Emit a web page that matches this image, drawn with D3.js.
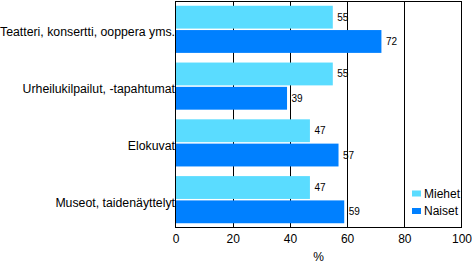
<!DOCTYPE html>
<html><head><meta charset="utf-8">
<script src="https://cdn.jsdelivr.net/npm/d3@7"></script>
<style>body{margin:0;background:#fff}svg{display:block}text{font-family:Arial,"Liberation Sans",sans-serif}</style>
</head><body><svg id="c" width="472" height="265"></svg>
<script>
const categories = ["Teatteri, konsertti, ooppera yms.", "Urheilukilpailut, -tapahtumat", "Elokuvat", "Museot, taidenäyttelyt"];
const seriesNames = ["Miehet", "Naiset"];
const miehet = [55, 55, 47, 47];
const naiset = [72, 39, 57, 59];
const xTicks = [0, 20, 40, 60, 80, 100];
const colors = ["#5ADCFF", "#0080FF"];

const svg = d3.select("#c");
const m = {l: 175.5, r: 461.5, t: 1.5, b: 227.5};
const x = d3.scaleLinear().domain([0, 100]).range([m.l, m.r]);
const y0 = d3.scaleBand().domain(categories).range([m.t, m.b]).paddingInner(0.17).paddingOuter(0.075);
const y1 = d3.scaleBand().domain(seriesNames).range([0, y0.bandwidth()]).paddingInner(0.06);

const data = categories.map((c, i) => ({c, vals: [miehet[i], naiset[i]]}));

// gridlines
svg.append("g").selectAll("line").data(xTicks.slice(1, -1)).join("line")
  .attr("x1", d => Math.round(x(d)) + 0.5).attr("x2", d => Math.round(x(d)) + 0.5)
  .attr("y1", m.t).attr("y2", m.b).attr("stroke", "#000");

const g = svg.append("g").selectAll("g").data(data).join("g")
  .attr("transform", d => `translate(0,${y0(d.c)})`);
g.selectAll("rect").data(d => d.vals.map((v, k) => ({v, s: seriesNames[k], k}))).join("rect")
  .attr("x", x(0)).attr("y", d => y1(d.s)).attr("width", d => x(d.v) - x(0)).attr("height", y1.bandwidth())
  .attr("fill", d => colors[d.k]);
g.selectAll("text.v").data(d => d.vals.map((v, k) => ({v, s: seriesNames[k]}))).join("text")
  .attr("class", "v").attr("x", d => x(d.v) + 4.5).attr("y", d => y1(d.s) + y1.bandwidth() / 2)
  .attr("dy", "0.35em").attr("font-size", 10).text(d => d.v);

// frame
svg.append("rect").attr("x", m.l).attr("y", m.t).attr("width", m.r - m.l).attr("height", m.b - m.t)
  .attr("fill", "none").attr("stroke", "#000");

// category labels
svg.append("g").selectAll("text").data(categories).join("text")
  .attr("x", m.l - 0.5).attr("y", d => y0(d) + y0.bandwidth() / 2 + 7)
  .attr("text-anchor", "end").attr("font-size", 12.3).text(d => d);

// x axis
const xa = svg.append("g").attr("transform", `translate(0,${m.b})`)
  .call(d3.axisBottom(x).tickValues(xTicks).tickSize(0).tickPadding(7));
xa.select(".domain").remove();
xa.selectAll("text").attr("font-size", 12).attr("fill", "#000").attr("font-family", "Arial, 'Liberation Sans', sans-serif");
svg.append("text").attr("x", x(50)).attr("y", 261).attr("text-anchor", "middle").attr("font-size", 12).text("%");

// legend
const lg = svg.append("g").selectAll("g").data(seriesNames).join("g")
  .attr("transform", (d, i) => `translate(412,${190.5 + i * 17.5})`);
lg.append("rect").attr("width", 9).attr("height", 6).attr("fill", (d, i) => colors[i]);
lg.append("text").attr("x", 12).attr("y", 3).attr("dy", "0.35em").attr("font-size", 12).text(d => d);
</script></body></html>
